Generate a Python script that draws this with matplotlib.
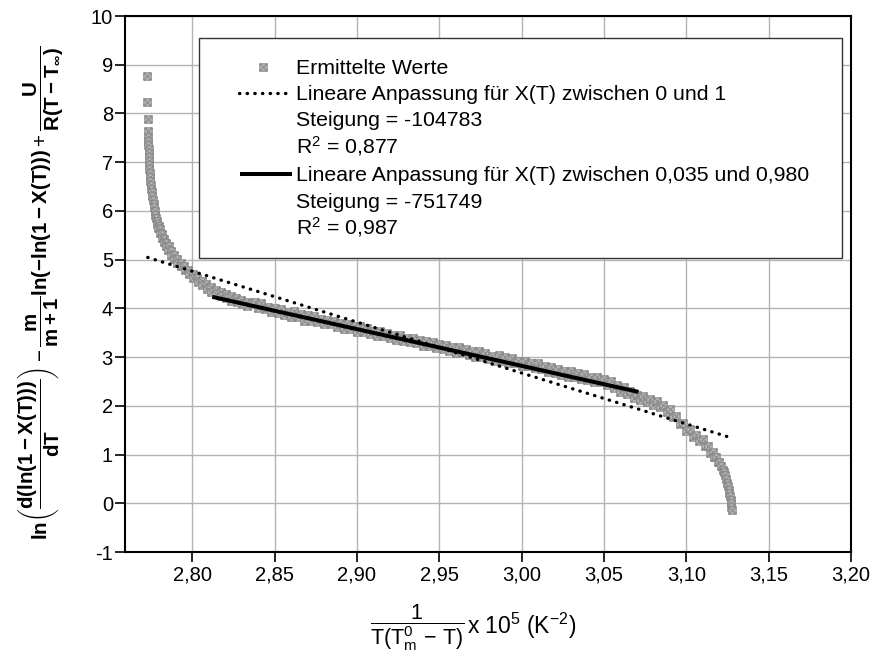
import matplotlib
matplotlib.use("Agg")
import matplotlib.pyplot as plt
from matplotlib.path import Path
from matplotlib.lines import Line2D
from matplotlib.patches import Rectangle
from matplotlib.ticker import FixedLocator, FuncFormatter

plt.rcParams['font.family'] = ['Liberation Sans', 'DejaVu Sans']
plt.rcParams['mathtext.fontset'] = 'custom'
plt.rcParams['mathtext.rm'] = 'Liberation Sans'
plt.rcParams['mathtext.it'] = 'Liberation Sans'
plt.rcParams['mathtext.bf'] = 'Liberation Sans:bold'
plt.rcParams['mathtext.default'] = 'regular'

# ---------------- data ----------------
data_x = [
    2.7727, 2.7727, 2.7729, 2.7731,
    2.7733, 2.7733, 2.7734, 2.7735, 2.7735, 2.7736, 2.7737, 2.7738, 2.7739, 2.7741,
    2.7743, 2.7746, 2.7748, 2.7751, 2.7754, 2.7757, 2.7761, 2.7765, 2.7769, 2.7773,
    2.7777, 2.7781,
    2.7788, 2.7784, 2.7797, 2.7792, 2.7805, 2.7803, 2.7815, 2.7814, 2.7828, 2.7826,
    2.7842, 2.7840, 2.7856, 2.7855, 2.7872, 2.7872, 2.7889, 2.7890, 2.7908, 2.7910,
    2.7930, 2.7932, 2.7953, 2.7955, 2.7977, 2.7980, 2.8003, 2.8006, 2.8030, 2.8033,
    2.8057, 2.8060, 2.8085, 2.8088, 2.8113, 2.8117, 2.8142, 2.8146, 2.8172, 2.8176,
    2.8203, 2.8207, 2.8234, 2.8238, 2.8265, 2.8270, 2.8298, 2.8302, 2.8330, 2.8334,
    2.8360,
    2.838, 2.840, 2.842, 2.844, 2.846, 2.848, 2.850, 2.852, 2.854, 2.856, 2.858, 2.860,
    2.862, 2.864, 2.866, 2.868, 2.870, 2.872, 2.874, 2.876, 2.878, 2.880, 2.882, 2.884,
    2.886, 2.888, 2.890, 2.892, 2.894, 2.896, 2.898, 2.900, 2.902, 2.904, 2.906, 2.908,
    2.910, 2.912, 2.914, 2.916, 2.918, 2.920, 2.922, 2.924, 2.926, 2.928, 2.930, 2.932,
    2.934, 2.936, 2.938, 2.940, 2.942, 2.944, 2.946, 2.948, 2.950, 2.952, 2.954, 2.956,
    2.958, 2.960, 2.962, 2.964, 2.966, 2.968, 2.970, 2.972, 2.974, 2.976, 2.978, 2.980,
    2.982, 2.984, 2.986, 2.988, 2.990, 2.992, 2.994, 2.996, 2.998, 3.000, 3.002, 3.004,
    3.006, 3.008, 3.010, 3.012, 3.014, 3.016, 3.018, 3.020, 3.022, 3.024, 3.026, 3.028,
    3.030, 3.032, 3.034, 3.036, 3.038, 3.040, 3.042, 3.044, 3.046, 3.048, 3.050, 3.052,
    3.054, 3.056, 3.058, 3.060, 3.062, 3.064, 3.066, 3.068, 3.070, 3.072, 3.074, 3.076,
    3.078, 3.080, 3.082, 3.084, 3.086, 3.088, 3.090, 3.092, 3.094, 3.096, 3.098, 3.100,
    3.102, 3.104, 3.106, 3.108, 3.110, 3.1115, 3.113, 3.1145, 3.116, 3.117, 3.118, 3.119,
    3.120, 3.121, 3.122, 3.1228, 3.1235, 3.1242, 3.1248, 3.1253, 3.1258, 3.1262, 3.1266,
    3.1269, 3.1272, 3.1274, 3.1275,
]
data_y = [
    8.77, 8.23, 7.88, 7.64,
    7.52, 7.43, 7.35, 7.27, 7.19, 7.10, 7.02, 6.94, 6.86, 6.78,
    6.70, 6.61, 6.53, 6.45, 6.38, 6.30, 6.22, 6.15, 6.07, 5.99,
    5.92, 5.85,
    5.79, 5.74, 5.70, 5.64, 5.62, 5.54, 5.53, 5.45, 5.43, 5.36,
    5.35, 5.27, 5.27, 5.19, 5.18, 5.10, 5.10, 5.02, 5.02, 4.93,
    4.94, 4.86, 4.87, 4.78, 4.79, 4.70, 4.71, 4.62, 4.63, 4.54,
    4.56, 4.47, 4.49, 4.40, 4.43, 4.34, 4.38, 4.29, 4.34, 4.25,
    4.30, 4.21, 4.25, 4.16, 4.22, 4.13, 4.18, 4.09, 4.14, 4.05,
    4.11,
    4.13, 4.01, 4.10, 3.99, 4.03, 3.92, 4.01, 3.90, 3.99, 3.86, 3.92, 3.82,
    3.94, 3.83, 3.88, 3.75, 3.86, 3.75, 3.84, 3.71, 3.78, 3.67, 3.77, 3.67,
    3.75, 3.62, 3.70, 3.58, 3.68, 3.57, 3.63, 3.52, 3.63, 3.51, 3.59, 3.47,
    3.54, 3.43, 3.54, 3.44, 3.50, 3.39, 3.46, 3.35, 3.45, 3.34, 3.39, 3.30,
    3.40, 3.28, 3.36, 3.23, 3.32, 3.23, 3.31, 3.18, 3.27, 3.17, 3.25, 3.13,
    3.20, 3.09, 3.21, 3.10, 3.16, 3.05, 3.12, 3.01, 3.12, 3.00, 3.08, 2.97,
    3.03, 2.93, 3.04, 2.93, 3.00, 2.88, 2.98, 2.87, 2.93, 2.82, 2.92, 2.81,
    2.88, 2.77, 2.87, 2.75, 2.82, 2.69, 2.80, 2.68, 2.75, 2.64, 2.71, 2.60,
    2.71, 2.60, 2.67, 2.55, 2.65, 2.53, 2.60, 2.48, 2.59, 2.48, 2.55, 2.42,
    2.50, 2.37, 2.43, 2.29, 2.38, 2.25, 2.31, 2.17, 2.23, 2.11, 2.20, 2.08,
    2.14, 2.01, 2.10, 1.97, 2.02, 1.87, 1.93, 1.77, 1.80, 1.62, 1.65, 1.48,
    1.52, 1.37, 1.41, 1.27, 1.31, 1.17, 1.18, 1.04, 1.05, 0.94, 0.94, 0.84,
    0.84, 0.76, 0.69, 0.64, 0.58, 0.50, 0.42, 0.35, 0.28, 0.21, 0.14,
    0.07, 0.00, -0.07, -0.13,
]

fit1_x = [2.773, 3.1257]
fit1_y = [5.045, 1.36]
fit2_x = [2.8122, 3.071]
fit2_y = [4.236, 2.285]

x_ticks = [2.80, 2.85, 2.90, 2.95, 3.00, 3.05, 3.10, 3.15, 3.20]
y_ticks = [-1, 0, 1, 2, 3, 4, 5, 6, 7, 8, 9, 10]

legend_labels = [
    "Ermittelte Werte",
    "Lineare Anpassung für X(T) zwischen 0 und 1",
    "Steigung = -104783",
    "R$^2$ = 0,877",
    "Lineare Anpassung für X(T) zwischen 0,035 und 0,980",
    "Steigung = -751749",
    "R$^2$ = 0,987",
]

# ---------------- figure ----------------
W, H = 873, 656
fig = plt.figure(figsize=(W / 100, H / 100), dpi=100)
ax = fig.add_axes([124.7 / W, 1 - 552 / H, (851 - 124.7) / W, (552 - 16) / H])

box_x = Path([(-1, -1), (1, -1), (1, 1), (-1, 1), (-1, -1), (-1, -1), (1, 1), (-1, 1), (1, -1)],
             [Path.MOVETO, Path.LINETO, Path.LINETO, Path.LINETO, Path.CLOSEPOLY,
              Path.MOVETO, Path.LINETO, Path.MOVETO, Path.LINETO])
mk = dict(marker=box_x, markersize=5.3, markerfacecolor='#bababa',
          markeredgecolor='#8a8a8a', markeredgewidth=0.8)

ax.plot(data_x, data_y, linestyle='none', zorder=3, **mk)
dotted = dict(color='black', linewidth=2.4, linestyle=(0, (0.1, 2.2)),
              dash_capstyle='round')
solid = dict(color='black', linewidth=2.9, solid_capstyle='butt')
ax.plot(fit1_x, fit1_y, zorder=4, **dotted)
ax.plot(fit2_x, fit2_y, zorder=4, **solid)

ax.set_xlim(2.759, 3.20)
ax.set_ylim(-1, 10)
ax.xaxis.set_major_locator(FixedLocator(x_ticks))
ax.yaxis.set_major_locator(FixedLocator(y_ticks))
ax.xaxis.set_major_formatter(FuncFormatter(lambda v, p: f"{v:.2f}".replace('.', ',')))
ax.yaxis.set_major_formatter(FuncFormatter(lambda v, p: f"{int(round(v))}"))
ax.grid(True, color='#b4b4b4', linewidth=1.0, zorder=0)
ax.set_axisbelow(True)
for s in ax.spines.values():
    s.set_linewidth(1.5)
    s.set_color('black')
ax.tick_params(axis='both', direction='out', length=7, width=1.2, labelsize=14.5,
               colors='black')
ax.tick_params(axis='y', pad=1.5)
ax.tick_params(axis='x', pad=2.5)

# legend (drawn manually inside a framed box)
fig.patches.append(Rectangle((199 / W, 1 - 258 / H), (842 - 199) / W, (258 - 38) / H,
                             transform=fig.transFigure, facecolor='white',
                             edgecolor='#333333', linewidth=1.0, zorder=5))
row_y = [67, 93, 119, 146, 174, 200, 227]
for lab, yy in zip(legend_labels, row_y):
    fig.text(296 / W, 1 - (yy + 7.5) / H, lab, ha='left', va='baseline',
             fontsize=15.3, zorder=7)
fig.add_artist(Line2D([263 / W], [1 - 67 / H], linestyle='none', zorder=7, **mk))
fig.add_artist(Line2D([239 / W, 292 / W], [1 - 93 / H, 1 - 93 / H], zorder=7, **dotted))
fig.add_artist(Line2D([240 / W, 292 / W], [1 - 174 / H, 1 - 174 / H], zorder=7, **solid))

# axis labels
fig.text(41 / W, 1 - 293 / H,
         r'$\mathbf{ln}\left(\dfrac{\mathbf{d(ln(1-X(T)))}}{\mathbf{dT}}\right)'
         r'-\dfrac{\mathbf{m}}{\mathbf{m+1}}\mathbf{ln(-ln(1-X(T)))}'
         r'+\dfrac{\mathbf{U}}{\mathbf{R(T-T_{\infty})}}$',
         rotation=90, ha='center', va='center', fontsize=14.8)
fig.text(417 / W, 1 - 628 / H,
         r'$\dfrac{1}{T(T_{m}^{0}\,-\,T)}$',
         ha='center', va='center', fontsize=15.5)
fig.text(467 / W, 1 - 634 / H,
         r'x 10$^{5}$ (K$^{-2}$)',
         ha='left', va='baseline', fontsize=16.5)

fig.savefig('out.png', dpi=100)
